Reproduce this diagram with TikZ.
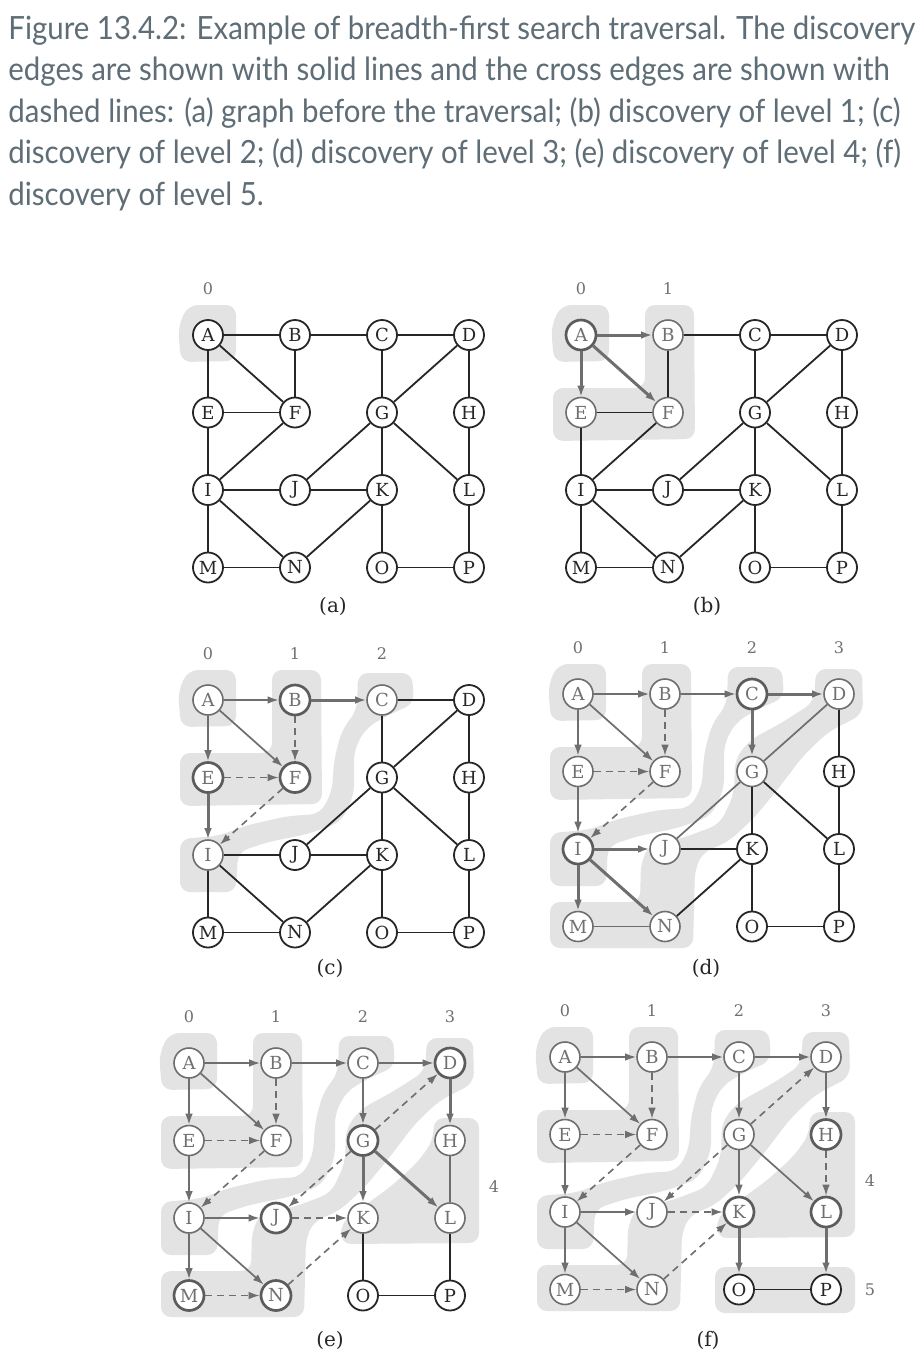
\documentclass[tikz,border=0pt]{standalone}
\usepackage{fontspec}
\newfontfamily\capfont{Lato}[FakeStretch=0.92]
\newfontfamily\ndfont{DejaVu Serif}
\usetikzlibrary{arrows.meta}
\definecolor{dk}{HTML}{262626}
\definecolor{gr}{HTML}{6E6E6E}
\definecolor{gt}{HTML}{707070}
\definecolor{blobc}{HTML}{E3E3E3}
\definecolor{capc}{HTML}{5E6D76}
\definecolor{lvc}{HTML}{707070}
\tikzset{
 nd/.style={circle, minimum size=15pt, inner sep=0pt, fill=white, font=\ndfont\fontsize{9}{10}\selectfont},
 nb/.style={nd, draw=dk, line width=0.9pt, text=dk},
 ng/.style={nd, draw=gr, line width=0.8pt, text=gt},
 nt/.style={nd, draw=dk!75, line width=1.35pt, text=gt},
 arw/.style={-{Latex[length=5.5pt,width=3.8pt]}},
 eb/.style={draw=dk, line width=0.9pt},
 eg/.style={draw=gr, line width=0.85pt},
 eold/.style={draw=gr, line width=0.85pt, arw},
 enew/.style={draw=gr, line width=1.5pt, arw},
 ecross/.style={draw=gr, line width=0.8pt, dash pattern=on 3.5pt off 2.5pt, arw},
 lvblob/.style={fill=blobc, rounded corners=5pt},
 lvl/.style={text=lvc, font=\ndfont\fontsize{8}{9}\selectfont},
 sublbl/.style={text=dk, font=\ndfont\fontsize{10}{11}\selectfont},
 captxt/.style={anchor=base west, inner sep=0pt, text=capc, font=\capfont\fontsize{16}{19}\selectfont},
}
\newcommand\drawnodes[2]{\foreach \n/\cc/\rr/\s in {#2}{\node[\s] (#1\n) at (\cc*87,\rr*77.5) {\n};}}
\newcommand\drawedges[2]{\foreach \fa/\fb/\s in {#2}{\draw[\s] (#1\fa) -- (#1\fb);}}
\newcommand\blobZero{\fill[lvblob] (-30,-8) -- (-20,-30) -- (28,-30) -- (28,26) -- (-27,27) -- cycle;}
\newcommand\blobOne{\fill[lvblob] (64,-30) -- (113,-30) -- (114,104) -- (-28,106) -- (-28,53) -- (64,53) -- cycle;}
\newcommand\blobTwo{\fill[lvblob] (150,-27) -- (204,-27) -- (206,4) -- (182,14) -- (158,28) -- (146,50) -- (146,95) -- (133,122) -- (100,134) -- (60,142) -- (30,152) -- (28,192) -- (-28,192) -- (-28,139) -- (10,136) -- (40,125) -- (80,116) -- (112,114) -- (124,92) -- (126,60) -- (134,30) -- (149,10) -- cycle;}
\newcommand\blobThree{\fill[lvblob] (238,-25) -- (284,-25) -- (285,20) -- (250,38) -- (225,62) -- (200,95) -- (175,125) -- (150,148) -- (125,158) -- (117,175) -- (115,254) -- (-28,254) -- (-28,208) -- (62,208) -- (63,168) -- (72,150) -- (105,144) -- (142,130) -- (156,100) -- (157,65) -- (172,46) -- (205,28) -- (236,8) -- cycle;}
\newcommand\blobFour{\fill[lvblob] (245,55) -- (290,55) -- (290,180) -- (152,181) -- (152,160) -- (172,145) -- (200,125) -- (228,100) -- (244,78) -- cycle;}
\newcommand\blobFive{\fill[lvblob] (150,210) -- (290,210) -- (290,256) -- (150,256) -- cycle;}
\begin{document}
\begin{tikzpicture}[x=0.5pt,y=-0.5pt]
\useasboundingbox (0,0) rectangle (921,1361);
\fill[white] (0,0) rectangle (921,1361);
% caption
\node[captxt] (cap1) at (8,39) {Figure 13.4.2: Example of breadth-first search traversal. The discovery};
\node[captxt] (cap2) at (8,80.5) {edges are shown with solid lines and the cross edges are shown with};
\node[captxt] (cap3) at (8,122) {dashed lines: (a) graph before the traversal; (b) discovery of level 1; (c)};
\node[captxt] (cap4) at (8,163.5) {discovery of level 2; (d) discovery of level 3; (e) discovery of level 4; (f)};
\node[captxt] (cap5) at (8,205) {discovery of level 5.};
% ---------------- (a)
\begin{scope}[shift={(208,335)}]
\blobZero
\drawnodes{a}{A/0/0/nb,B/1/0/nb,C/2/0/nb,D/3/0/nb,E/0/1/nb,F/1/1/nb,G/2/1/nb,H/3/1/nb,I/0/2/nb,J/1/2/nb,K/2/2/nb,L/3/2/nb,M/0/3/nb,N/1/3/nb,O/2/3/nb,P/3/3/nb}
\drawedges{a}{A/B/eb,B/C/eb,C/D/eb,A/E/eb,A/F/eb,B/F/eb,E/F/eb,C/G/eb,G/D/eb,D/H/eb,E/I/eb,F/I/eb,G/J/eb,G/K/eb,G/L/eb,H/L/eb,I/J/eb,J/K/eb,I/M/eb,I/N/eb,N/K/eb,K/O/eb,L/P/eb,M/N/eb,O/P/eb}
\node[lvl] (ah0) at (0,-46) {0};
\end{scope}
% ---------------- (b)
\begin{scope}[shift={(581,335)}]
\blobZero \blobOne
\drawnodes{b}{A/0/0/nt,B/1/0/ng,C/2/0/nb,D/3/0/nb,E/0/1/ng,F/1/1/ng,G/2/1/nb,H/3/1/nb,I/0/2/nb,J/1/2/nb,K/2/2/nb,L/3/2/nb,M/0/3/nb,N/1/3/nb,O/2/3/nb,P/3/3/nb}
\drawedges{b}{A/B/enew,B/C/eb,C/D/eb,A/E/enew,A/F/enew,B/F/eb,E/F/eb,C/G/eb,G/D/eb,D/H/eb,E/I/eb,F/I/eb,G/J/eb,G/K/eb,G/L/eb,H/L/eb,I/J/eb,J/K/eb,I/M/eb,I/N/eb,N/K/eb,K/O/eb,L/P/eb,M/N/eb,O/P/eb}
\foreach \k in {0,1}{\node[lvl] (bh\k) at (\k*87,-46) {\k};}
\end{scope}
% ---------------- (c)
\begin{scope}[shift={(208,700)}]
\blobZero \blobOne \blobTwo
\drawnodes{c}{A/0/0/ng,B/1/0/nt,C/2/0/ng,D/3/0/nb,E/0/1/nt,F/1/1/nt,G/2/1/nb,H/3/1/nb,I/0/2/ng,J/1/2/nb,K/2/2/nb,L/3/2/nb,M/0/3/nb,N/1/3/nb,O/2/3/nb,P/3/3/nb}
\drawedges{c}{A/B/eold,B/C/enew,C/D/eb,A/E/eold,A/F/eold,B/F/ecross,E/F/ecross,C/G/eb,G/D/eb,D/H/eb,E/I/enew,F/I/ecross,G/J/eb,G/K/eb,G/L/eb,H/L/eb,I/J/eb,J/K/eb,I/M/eb,I/N/eb,N/K/eb,K/O/eb,L/P/eb,M/N/eb,O/P/eb}
\foreach \k in {0,1,2}{\node[lvl] (ch\k) at (\k*87,-46) {\k};}
\end{scope}
% ---------------- (d)
\begin{scope}[shift={(578,694)}]
\blobZero \blobOne \blobTwo \blobThree
\drawnodes{d}{A/0/0/ng,B/1/0/ng,C/2/0/nt,D/3/0/ng,E/0/1/ng,F/1/1/ng,G/2/1/ng,H/3/1/nb,I/0/2/nt,J/1/2/ng,K/2/2/nb,L/3/2/nb,M/0/3/ng,N/1/3/ng,O/2/3/nb,P/3/3/nb}
\drawedges{d}{A/B/eold,B/C/eold,C/D/enew,A/E/eold,A/F/eold,B/F/ecross,E/F/ecross,C/G/enew,G/D/eg,D/H/eb,E/I/eold,F/I/ecross,G/J/eg,G/K/eb,G/L/eb,H/L/eb,I/J/enew,J/K/eb,I/M/enew,I/N/enew,N/K/eb,K/O/eb,L/P/eb,M/N/eg,O/P/eb}
\foreach \k in {0,1,2,3}{\node[lvl] (dh\k) at (\k*87,-46) {\k};}
\end{scope}
% ---------------- (e)
\begin{scope}[shift={(189,1063)}]
\blobZero \blobOne \blobTwo \blobThree \blobFour
\drawnodes{e}{A/0/0/ng,B/1/0/ng,C/2/0/ng,D/3/0/nt,E/0/1/ng,F/1/1/ng,G/2/1/nt,H/3/1/ng,I/0/2/ng,J/1/2/nt,K/2/2/ng,L/3/2/ng,M/0/3/nt,N/1/3/nt,O/2/3/nb,P/3/3/nb}
\drawedges{e}{A/B/eold,B/C/eold,C/D/eold,A/E/eold,A/F/eold,B/F/ecross,E/F/ecross,C/G/eold,G/D/ecross,D/H/enew,E/I/eold,F/I/ecross,G/J/ecross,G/K/enew,G/L/enew,H/L/eg,I/J/eold,J/K/ecross,I/M/eold,I/N/eold,N/K/ecross,K/O/eb,L/P/eb,M/N/ecross,O/P/eb}
\foreach \k in {0,1,2,3}{\node[lvl] (eh\k) at (\k*87,-46) {\k};}
\node[lvl] (eh4) at (305,124) {4};
\end{scope}
% ---------------- (f)
\begin{scope}[shift={(565,1057)}]
\blobZero \blobOne \blobTwo \blobThree \blobFour \blobFive
\drawnodes{f}{A/0/0/ng,B/1/0/ng,C/2/0/ng,D/3/0/ng,E/0/1/ng,F/1/1/ng,G/2/1/ng,H/3/1/nt,I/0/2/ng,J/1/2/ng,K/2/2/nt,L/3/2/nt,M/0/3/ng,N/1/3/ng,O/2/3/nb,P/3/3/nb}
\drawedges{f}{A/B/eold,B/C/eold,C/D/eold,A/E/eold,A/F/eold,B/F/ecross,E/F/ecross,C/G/eold,G/D/ecross,D/H/eold,E/I/eold,F/I/ecross,G/J/ecross,G/K/eold,G/L/eold,H/L/ecross,I/J/eold,J/K/ecross,I/M/eold,I/N/eold,N/K/ecross,K/O/enew,L/P/enew,M/N/ecross,O/P/eb}
\foreach \k in {0,1,2,3}{\node[lvl] (fh\k) at (\k*87,-46) {\k};}
\node[lvl] (fh4) at (305,124) {4};
\node[lvl] (fh5) at (305,233) {5};
\end{scope}
% sub labels
\node[sublbl] (la) at (333,606) {(a)};
\node[sublbl] (lb) at (707,606) {(b)};
\node[sublbl] (lc) at (330,968) {(c)};
\node[sublbl] (ld) at (706,968) {(d)};
\node[sublbl] (le) at (330,1340) {(e)};
\node[sublbl] (lf) at (708,1340) {(f)};
\end{tikzpicture}
\end{document}
